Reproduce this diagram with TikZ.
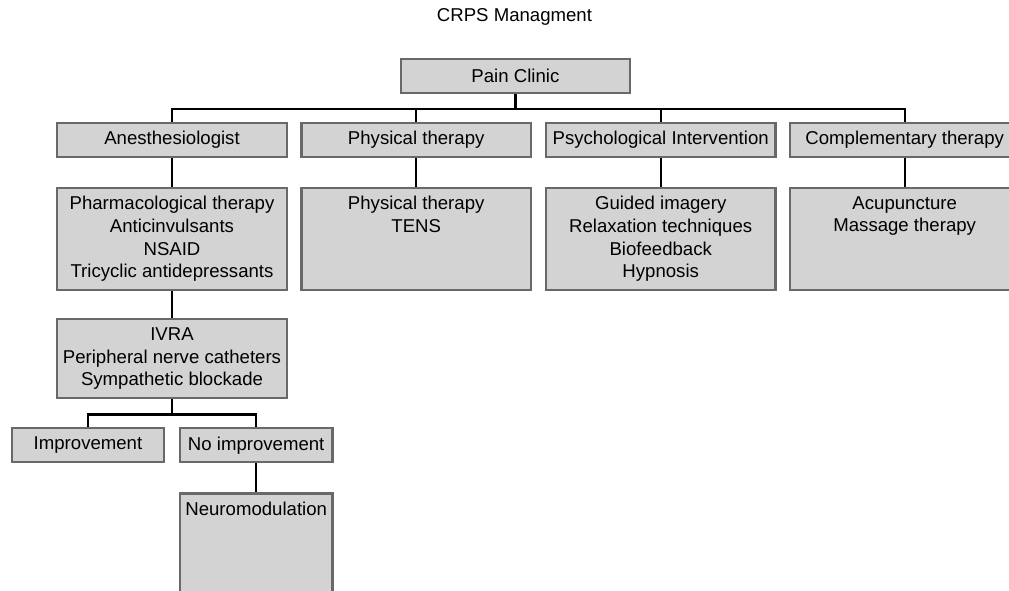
\documentclass[tikz,border=0pt]{standalone}
\usepackage{fontspec}
\setmainfont{Liberation Sans}
\definecolor{boxfill}{RGB}{211,211,211}
\definecolor{boxline}{RGB}{105,105,105}

\begin{document}
\begin{tikzpicture}[x=1pt, y=-1pt,
    box/.style={draw=boxline, fill=boxfill, line width=2.2pt, inner sep=0pt,
        minimum width=229.4pt, minimum height=34.6pt, align=center,
        font=\fontsize{18.6}{22.7}\selectfont},
    smallbox/.style={box, minimum width=152.4pt, minimum height=34pt},
    listbox/.style={box, anchor=north, minimum height=102.3pt},
    listtext/.style={anchor=north, inner sep=0pt, yshift=-9.4pt, align=center,
        font=\fontsize{18.6}{22.7}\selectfont},
    link/.style={line width=2.2pt, black}]

    \useasboundingbox (0,0) rectangle (1009,591);
    \clip (0,0) rectangle (1009,591);

    \node[anchor=base, font=\fontsize{18.6}{22.7}\selectfont] (title) at (514.5,21.5) {CRPS Managment};

    \node[box, minimum height=33.7pt] (pain) at (515.4,75.9) {Pain Clinic};

    \node[box] (anest) at (172,140)   {Anesthesiologist};
    \node[box] (phys)  at (416.2,140) {Physical therapy};
    \node[box] (psych) at (660.7,140) {Psychological Intervention};
    \node[box] (compl) at (904.7,140) {Complementary therapy};

    \node[listbox, label={[listtext]north:{Pharmacological therapy\\Anticinvulsants\\NSAID\\Tricyclic antidepressants}}] (pharm) at (172,186.7) {};
    \node[listbox, label={[listtext]north:{Physical therapy\\TENS}}] (physlist) at (416.2,186.7) {};
    \node[listbox, label={[listtext]north:{Guided imagery\\Relaxation techniques\\Biofeedback\\Hypnosis}}] (psychlist) at (660.7,186.7) {};
    \node[listbox, label={[listtext]north:{Acupuncture\\Massage therapy}}] (compllist) at (904.7,186.7) {};

    \node[box, minimum height=79.3pt] (ivra) at (172,358.7) {IVRA\\Peripheral nerve catheters\\Sympathetic blockade};

    \node[smallbox] (impr)   at (88,445.3)    {Improvement};
    \node[smallbox] (noimpr) at (256.2,445.3) {No improvement};

    \node[listbox, smallbox, anchor=north, minimum height=130pt,
        label={[listtext]north:Neuromodulation}] (neuro) at (256.2,492.3) {};

    \draw[link] (pain.south) -- ++(0,15) coordinate (bus);
    \foreach \n in {anest,phys,psych,compl}
        \draw[link] (bus) -| (\n.north);

    \draw[link] (anest.south) -- (pharm.north);
    \draw[link] (phys.south)  -- (physlist.north);
    \draw[link] (psych.south) -- (psychlist.north);
    \draw[link] (compl.south) -- (compllist.north);

    \draw[link] (pharm.south) -- (ivra.north);
    \draw[link] (ivra.south) -- ++(0,15) coordinate (split);
    \draw[link] (split) -| (impr.north);
    \draw[link] (split) -| (noimpr.north);
    \draw[link] (noimpr.south) -- (neuro.north);

\end{tikzpicture}
\end{document}
